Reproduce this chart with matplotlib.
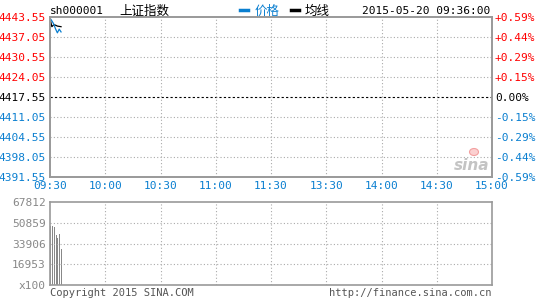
import matplotlib
matplotlib.use("Agg")
from matplotlib import pyplot as plt
from matplotlib.lines import Line2D
from matplotlib.patches import Ellipse
import numpy as np

plt.rcParams['font.family'] = ['DejaVu Sans Mono', 'Noto Sans CJK SC']

# data (minutes since 09:30)
pre_close = 4417.55
minutes = [0, 1, 2, 3, 4, 5, 6]
price = [4443.2, 4442.3, 4441.3, 4439.7, 4438.4, 4439.6, 4438.7]
avg_line = [4443.2, 4440.4, 4441.0, 4440.9, 4440.6, 4440.5, 4440.4]
volume = [48000, 48200, 47100, 40800, 38600, 41700, 29400]

time_labels = ["09:30", "10:00", "10:30", "11:00", "11:30",
               "13:30", "14:00", "14:30", "15:00"]
price_ticks = [4443.55, 4437.05, 4430.55, 4424.05, 4417.55,
               4411.05, 4404.55, 4398.05, 4391.55]
vol_ticks = [67812, 50859, 33906, 16953, 0]
vol_labels = ["67812", "50859", "33906", "16953", "x100"]

RED = "#ff0000"
BLUE = "#0a7fd0"
GREY = "#999999"
VGREY = "#888888"

W, H = 545, 300
fig = plt.figure(figsize=(W / 100, H / 100), dpi=100)
fig.patch.set_facecolor("white")

ax = fig.add_axes([50 / W, 1 - 177 / H, 442 / W, 160 / H])
vax = fig.add_axes([50 / W, 1 - 285 / H, 442 / W, 83 / H])

xt = np.arange(0, 241, 30)

# price panel
ax.set_xlim(0, 240)
ax.set_ylim(price_ticks[-1], price_ticks[0])
for y in price_ticks[1:-1]:
    if y == pre_close:
        ax.axhline(y, color="black", lw=0.8, ls=(0, (2, 2)))
    else:
        ax.axhline(y, color="#aaaaaa", lw=0.8, ls=(0, (1, 2)))
for x in xt[1:-1]:
    ax.axvline(x, color="#aaaaaa", lw=0.8, ls=(0, (1, 2)))
ax.plot(minutes, avg_line, color="black", lw=0.9)
ax.plot(minutes, price, color=BLUE, lw=0.9)

ax.set_yticks(price_ticks)
ax.set_yticklabels([f"{v:.2f}" for v in price_ticks], fontsize=8)
for lab, v in zip(ax.get_yticklabels(), price_ticks):
    lab.set_color(RED if v > pre_close else ("black" if v == pre_close else BLUE))
ax.set_xticks(xt)
ax.set_xticklabels(time_labels, fontsize=8, color=BLUE)
ax.tick_params(length=0, pad=3)

pct = [(v - pre_close) / pre_close * 100 for v in price_ticks]
pct_labels = []
for p in pct:
    if abs(p) < 0.001:
        pct_labels.append("0.00%")
    elif p > 0:
        pct_labels.append(f"+{p:.2f}%")
    else:
        pct_labels.append(f"{p:.2f}%")
ax2 = ax.twinx()
ax2.set_ylim(pct[-1], pct[0])
ax2.set_yticks(pct)
ax2.set_yticklabels(pct_labels, fontsize=8)
for lab, p in zip(ax2.get_yticklabels(), pct):
    lab.set_color(RED if p > 0.001 else ("black" if abs(p) <= 0.001 else BLUE))
ax2.tick_params(length=0, pad=2)

for a in (ax, ax2, vax):
    for s in a.spines.values():
        s.set_color(GREY)
        s.set_linewidth(1.2)

# volume panel
vax.set_xlim(0, 240)
vax.set_ylim(0, vol_ticks[0])
for y in vol_ticks[1:-1]:
    vax.axhline(y, color="#aaaaaa", lw=0.8, ls=(0, (1, 2)))
for x in xt[1:-1]:
    vax.axvline(x, color="#aaaaaa", lw=0.8, ls=(0, (1, 2)))
vax.bar(minutes, volume, width=0.55, color=VGREY, align="edge")
vax.set_yticks(vol_ticks)
vax.set_yticklabels(vol_labels, fontsize=8, color=VGREY)
vax.set_xticks([])
vax.tick_params(length=0, pad=3)

# header
fig.text(50 / W, 1 - 14 / H, "sh000001", fontsize=8, va="baseline")
fig.text(119 / W, 1 - 15 / H, "上证指数", fontsize=9, va="baseline",
         family=["Noto Sans CJK SC"])
fig.add_artist(Line2D([240 / W, 248 / W], [1 - 10 / H, 1 - 10 / H],
                      color=BLUE, lw=2.5, transform=fig.transFigure))
fig.text(255 / W, 1 - 15 / H, "价格", fontsize=9, va="baseline", color=BLUE,
         family=["Noto Sans CJK SC"])
fig.add_artist(Line2D([291 / W, 299 / W], [1 - 10 / H, 1 - 10 / H],
                      color="black", lw=2.5, transform=fig.transFigure))
fig.text(305 / W, 1 - 15 / H, "均线", fontsize=9, va="baseline",
         family=["Noto Sans CJK SC"])
fig.text(490 / W, 1 - 14 / H, "2015-05-20 09:36:00", fontsize=8,
         va="baseline", ha="right")

# watermark
fig.text(472 / W, 1 - 165 / H, "sina", fontsize=11, color="#c4c4c4",
         style="italic", weight="bold", ha="center", va="center",
         family=["DejaVu Sans"])
fig.add_artist(Ellipse((474 / W, 1 - 152 / H), 9 / W, 7 / H,
                       facecolor="#fbd0d0", edgecolor="#f3a0a0", lw=0.8,
                       transform=fig.transFigure))

# footer
fig.text(50 / W, 1 - 296 / H, "Copyright 2015 SINA.COM", fontsize=7.5,
         color="#555555", va="baseline")
fig.text(491 / W, 1 - 296 / H, "http://finance.sina.com.cn", fontsize=7.5,
         color="#555555", va="baseline", ha="right")

fig.savefig("out.png", dpi=100)
